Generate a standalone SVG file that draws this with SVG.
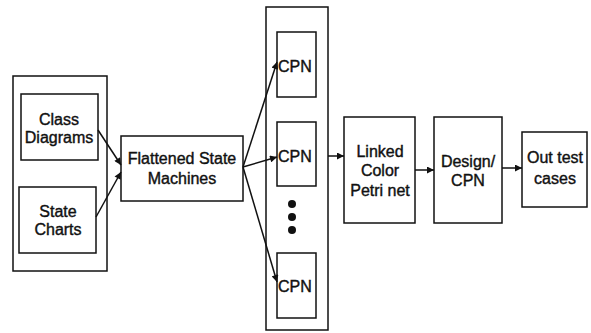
<svg xmlns="http://www.w3.org/2000/svg" width="591" height="333" viewBox="0 0 591 333">
<style>
.b{fill:none;stroke:#111;stroke-width:1.5}
.t{font-family:"Liberation Sans",Arial,sans-serif;font-size:16px;fill:#111;stroke:#111;stroke-width:0.4;text-anchor:middle}
.c{font-family:"Liberation Sans",Arial,sans-serif;font-size:16px;fill:#111;stroke:#111;stroke-width:0.4}
.e{fill:none;stroke:#111;stroke-width:1.5;marker-end:url(#ah)}
</style>
<defs>
<marker id="ah" viewBox="0 0 10 10" refX="10" refY="5" markerWidth="8" markerHeight="7" markerUnits="userSpaceOnUse" orient="auto"><path d="M0,0L10,5L0,10z" fill="#111"/></marker>
</defs>
<rect width="591" height="333" fill="#fff"/>
<g id="inputs"><rect class="b" x="13" y="76" width="94" height="195"/></g>
<g id="class"><rect class="b" x="21" y="94" width="77" height="66"/><text class="t" x="59" y="125">Class</text><text class="t" x="59" y="143">Diagrams</text></g>
<g id="state"><rect class="b" x="19" y="187" width="77" height="66"/><text class="t" x="58" y="217">State</text><text class="t" x="58" y="235">Charts</text></g>
<g id="flat"><rect class="b" x="121" y="136" width="122" height="65"/><text class="t" x="182" y="164">Flattened State</text><text class="t" x="182" y="184">Machines</text></g>
<g id="cpngroup"><rect class="b" x="266" y="7" width="62" height="323"/></g>
<g id="cpn1"><rect class="b" x="277" y="32" width="39" height="65"/><text class="c" x="278" y="72">CPN</text></g>
<g id="cpn2"><rect class="b" x="277" y="122" width="39" height="64"/><text class="c" x="278" y="162">CPN</text></g>
<g id="dots"><circle cx="292" cy="204" r="4" fill="#111"/><circle cx="292" cy="217" r="4" fill="#111"/><circle cx="292" cy="230" r="4" fill="#111"/></g>
<g id="cpn3"><rect class="b" x="277" y="253" width="39" height="65"/><text class="c" x="278" y="292">CPN</text></g>
<g id="linked"><rect class="b" x="344" y="117" width="71" height="106"/><text class="t" x="380" y="157">Linked</text><text class="t" x="380" y="176">Color</text><text class="t" x="380" y="196">Petri net</text></g>
<g id="design"><rect class="b" x="434" y="117" width="68" height="106"/><text class="t" x="468" y="167">Design/</text><text class="t" x="468" y="186">CPN</text></g>
<g id="out"><rect class="b" x="522" y="132" width="65" height="75"/><text class="t" x="555" y="163">Out test</text><text class="t" x="555" y="184">cases</text></g>
<g id="connectors">
<line class="e" x1="98" y1="130" x2="121" y2="165"/>
<line class="e" x1="96" y1="217" x2="121" y2="172"/>
<line class="e" x1="243" y1="167" x2="277" y2="62"/>
<line class="e" x1="243" y1="167" x2="277" y2="157"/>
<line class="e" x1="243" y1="167" x2="277" y2="282"/>
<line class="e" x1="328" y1="156" x2="344" y2="156"/>
<line class="e" x1="415" y1="170" x2="434" y2="170"/>
<line class="e" x1="502" y1="168" x2="522" y2="168"/>
</g>
</svg>
